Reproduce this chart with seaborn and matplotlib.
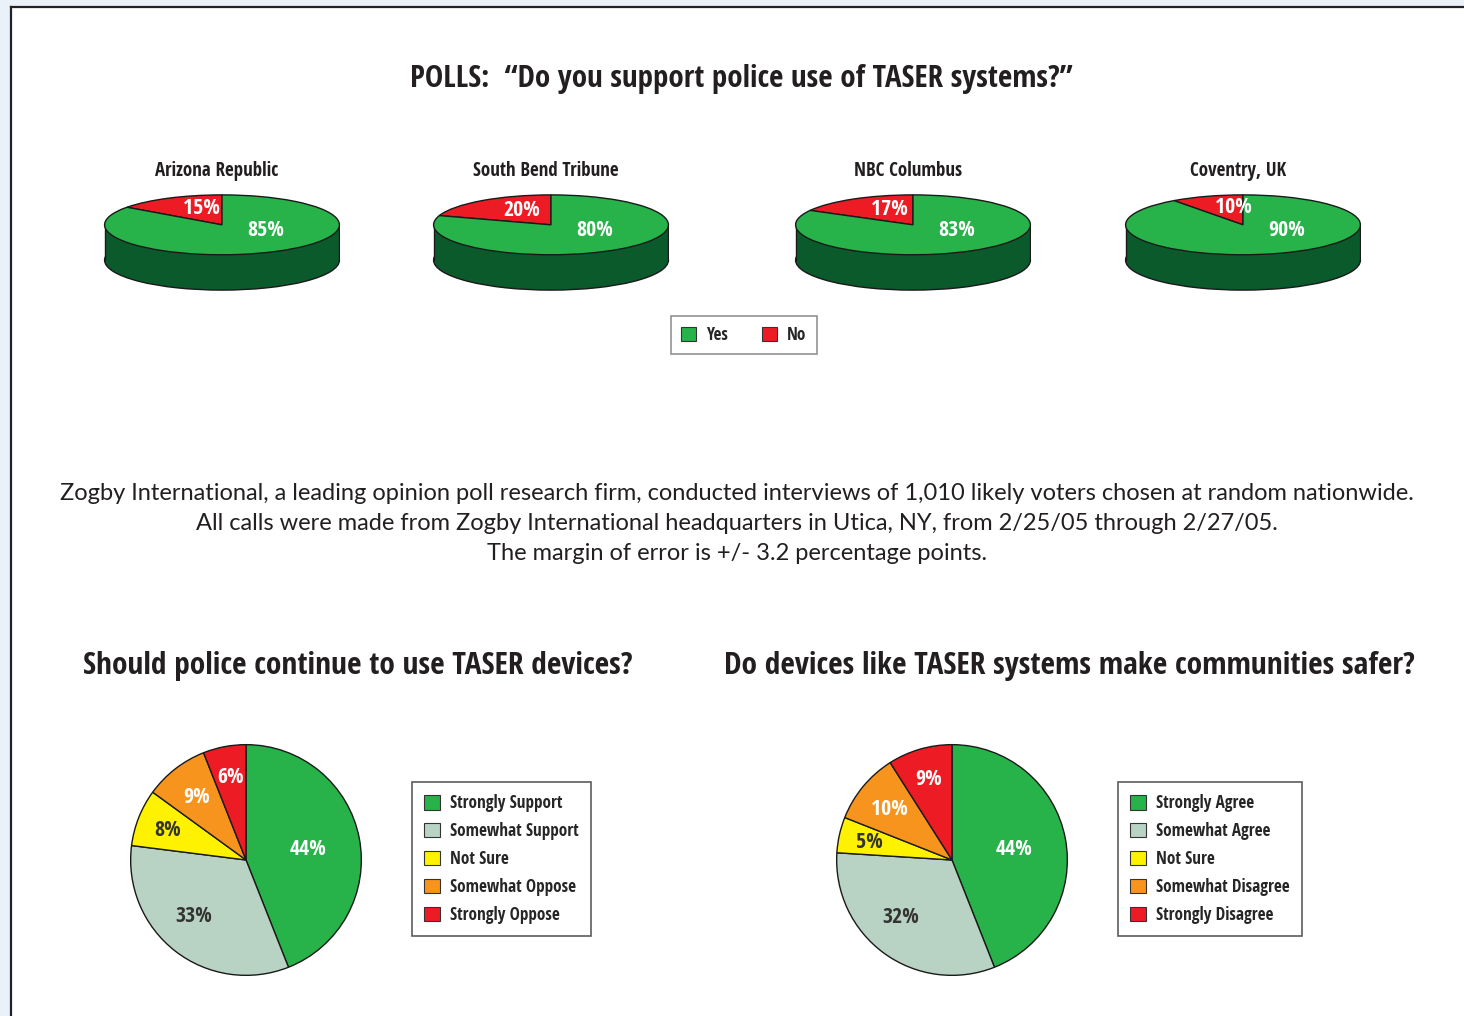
import os
import matplotlib
matplotlib.use("Agg")
import matplotlib.pyplot as plt
from matplotlib.patches import Patch
from matplotlib import font_manager as fm
import seaborn as sns
import numpy as np

# ---------------- data ----------------
title = "POLLS:  \u201cDo you support police use of TASER systems?\u201d"
poll_sources = ["Arizona Republic", "South Bend Tribune", "NBC Columbus", "Coventry, UK"]
poll_yes = [85, 80, 83, 90]
poll_no = [15, 20, 17, 10]
yes_no_labels = ["Yes", "No"]

paragraph = ["Zogby International, a leading opinion poll research firm, conducted interviews of 1,010 likely voters chosen at random nationwide.",
             "All calls were made from Zogby International headquarters in Utica, NY, from 2/25/05 through 2/27/05.",
             "The margin of error is +/- 3.2 percentage points."]

q1_title = "Should police continue to use TASER devices?"
q1_labels = ["Strongly Support", "Somewhat Support", "Not Sure", "Somewhat Oppose", "Strongly Oppose"]
q1_values = [44, 33, 8, 9, 6]

q2_title = "Do devices like TASER systems make communities safer?"
q2_labels = ["Strongly Agree", "Somewhat Agree", "Not Sure", "Somewhat Disagree", "Strongly Disagree"]
q2_values = [44, 32, 5, 10, 9]

# ---------------- style ----------------
sns.set_theme(style="white")
plt.rcParams['font.family'] = ['DejaVu Sans']


def pick_condensed_bold():
    prefs = ["noto sans", "open sans", "roboto", "dejavu sans", "liberation sans", "lato", "inter"]
    found = []
    for f in fm.fontManager.ttflist:
        fn = os.path.basename(f.fname).lower()
        nm = f.name.lower()
        cond = ("condensed" in fn or "narrow" in fn or "condensed" in nm or "narrow" in nm
                or f.stretch in ("condensed", "semi-condensed"))
        if not cond:
            continue
        if any(k in fn for k in ("extra", "ultra", "semi", "italic", "oblique", "light", "black", "medium", "thin")):
            continue
        if "bold" not in fn:
            continue
        rank = len(prefs)
        for i, p in enumerate(prefs):
            if nm.startswith(p):
                rank = i
                break
        found.append((rank, f.fname))
    if found:
        found.sort()
        return fm.FontProperties(fname=found[0][1])
    return fm.FontProperties(family=["Roboto", "DejaVu Sans"], weight="bold")


CB = pick_condensed_bold()
REG = fm.FontProperties(family=["Lato", "DejaVu Sans"])

GREEN = "#27b24a"
DKGREEN = "#0b5a2b"
RED = "#ed1c24"
SAGE = "#b8d3c3"
YELLOW = "#fff200"
ORANGE = "#f7941d"
INK = "#231f20"
five_colors = [GREEN, SAGE, YELLOW, ORANGE, RED]
five_text = ["white", "#333333", "#333333", "white", "white"]
five_rad = [0.55, 0.66, 0.73, 0.70, 0.74]
five_dang = [0, -6, 0, 0, 0]

W, H = 1464, 1016
fig = plt.figure(figsize=(W / 100, H / 100), dpi=100)
fig.patch.set_facecolor("#eaf1f8")
renderer = fig.canvas.get_renderer()


def fx(x):
    return x / W


def fy(y):
    return 1 - y / H


def fp_size(fp, size):
    p = fp.copy()
    p.set_size(size)
    return p


def fit_size(s, fp, target_w, base=20.0):
    t = fig.text(0, 0, s, fontproperties=fp_size(fp, base))
    w = t.get_window_extent(renderer).width
    t.remove()
    return base * target_w / w


def add_ax(x0, y0, x1, y1, **kw):
    return fig.add_axes([fx(x0), fy(y1), (x1 - x0) / W, (y1 - y0) / H], **kw)


# page background
bg = add_ax(11, 7, W + 2, H + 2)
bg.set_facecolor("white")
bg.set_xticks([]); bg.set_yticks([])
for s in ["right", "bottom"]:
    bg.spines[s].set_visible(False)
for s in ["top", "left"]:
    bg.spines[s].set_color("#222222")
    bg.spines[s].set_linewidth(1.6)

fig.text(fx(741), fy(79), title, ha="center", va="center",
         fontproperties=fp_size(CB, min(30, fit_size(title, CB, 664))), color=INK)

# ---------------- 3D poll pies ----------------
centers_x = [222, 551, 913, 1243]
src_widths = [125, 147, 107, 96]
R = 118
top_y, bot_y = 194, 291
r_px = 30.5
depth = (bot_y - top_y - 2 * r_px) / r_px
pct_fp = fp_size(CB, min(17, fit_size("85%", CB, 37)))
src_size = min(16, np.mean([fit_size(s, CB, w) for s, w in zip(poll_sources, src_widths)]))

for cx, src, yes, no in zip(centers_x, poll_sources, poll_yes, poll_no):
    ax = add_ax(cx - R, top_y, cx + R, bot_y)
    ax.axis("off")
    # side of the disc
    ax.pie([1], colors=[DKGREEN], center=(0, -depth), radius=1,
           wedgeprops=dict(edgecolor="#1a1a1a", linewidth=1.0), startangle=0)
    ax.fill_between([-1, 1], -depth, 0, color=DKGREEN, zorder=1.5, linewidth=0)
    ax.plot([-1, -1], [-depth, 0], color="#1a1a1a", lw=1.0, zorder=1.6)
    ax.plot([1, 1], [-depth, 0], color="#1a1a1a", lw=1.0, zorder=1.6)
    wedges, _ = ax.pie([no, yes], colors=[RED, GREEN], startangle=90, counterclock=True,
                       wedgeprops=dict(edgecolor="#1a1a1a", linewidth=1.0))
    for w in wedges:
        w.set_zorder(2)
    ax.set_aspect("auto")
    ax.set_xlim(-1.005, 1.005)
    ax.set_ylim(-1 - depth - 0.03, 1.03)
    w_no = wedges[0]
    mid = np.deg2rad((w_no.theta1 + w_no.theta2) / 2)
    ax.text(0.6 * np.cos(mid) + 0.10, 0.6 * np.sin(mid) + 0.0, f"{no}%", ha="center", va="center",
            color="white", fontproperties=pct_fp, zorder=3)
    ax.text(0.37, -0.2, f"{yes}%", ha="center", va="center",
            color="white", fontproperties=pct_fp, zorder=3)
    fig.text(fx(cx - 5), fy(171), src, ha="center", va="center",
             fontproperties=fp_size(CB, src_size), color=INK)

leg_size = min(14, fit_size("Somewhat Support", CB, 128))
leg_handles = [Patch(facecolor=GREEN, edgecolor="#333333", linewidth=0.8),
               Patch(facecolor=RED, edgecolor="#333333", linewidth=0.8)]
lg = fig.legend(leg_handles, yes_no_labels, loc="center", bbox_to_anchor=(fx(744), fy(335)),
                ncol=2, frameon=True, fancybox=False,
                prop=fp_size(CB, leg_size),
                handlelength=0.85, handleheight=0.85, handletextpad=0.6, columnspacing=2.0,
                borderpad=0.6, borderaxespad=0)
lg.get_frame().set_edgecolor("#777777")
lg.get_frame().set_linewidth(1.2)

# ---------------- paragraph ----------------
par_size = fit_size(paragraph[0], REG, 1362)
for i, line in enumerate(paragraph):
    fig.text(fx(737), fy(494 + 30 * i), line, ha="center", va="center",
             fontproperties=fp_size(REG, par_size), color=INK)

# ---------------- bottom pies ----------------
bt_size = min(28, fit_size(q1_title, CB, 554), fit_size(q2_title, CB, 690))


def bottom_pie(cx, cy, rad, values, labels, ttl, tcx, legx0):
    fig.text(fx(tcx), fy(666), ttl, ha="center", va="center",
             fontproperties=fp_size(CB, bt_size), color=INK)
    ax = add_ax(cx - rad, cy - rad, cx + rad, cy + rad)
    wedges, _ = ax.pie(values, colors=five_colors, startangle=90, counterclock=False,
                       wedgeprops=dict(edgecolor="#1a1a1a", linewidth=1.0))
    ax.set_aspect("equal")
    ax.set_xlim(-1.01, 1.01)
    ax.set_ylim(-1.01, 1.01)
    for w, v, c, rr, da in zip(wedges, values, five_text, five_rad, five_dang):
        mid = np.deg2rad((w.theta1 + w.theta2) / 2 + da)
        ax.text(rr * np.cos(mid), rr * np.sin(mid) - 0.01, f"{v}%", ha="center", va="center",
                color=c, fontproperties=pct_fp)
    handles = [Patch(facecolor=c, edgecolor="#333333", linewidth=0.8) for c in five_colors]
    lg = fig.legend(handles, labels, loc="upper left", bbox_to_anchor=(fx(legx0), fy(782)),
                    borderaxespad=0, frameon=True, fancybox=False,
                    prop=fp_size(CB, leg_size),
                    handlelength=0.9, handleheight=0.9, handletextpad=0.6,
                    labelspacing=0.58, borderpad=0.72)
    lg.get_frame().set_edgecolor("#333333")
    lg.get_frame().set_linewidth(1.2)


bottom_pie(246, 860, 116.5, q1_values, q1_labels, q1_title, 358, 412)
bottom_pie(952, 860, 116.5, q2_values, q2_labels, q2_title, 1069, 1118)

fig.savefig("out.png", dpi=100, facecolor=fig.get_facecolor())
